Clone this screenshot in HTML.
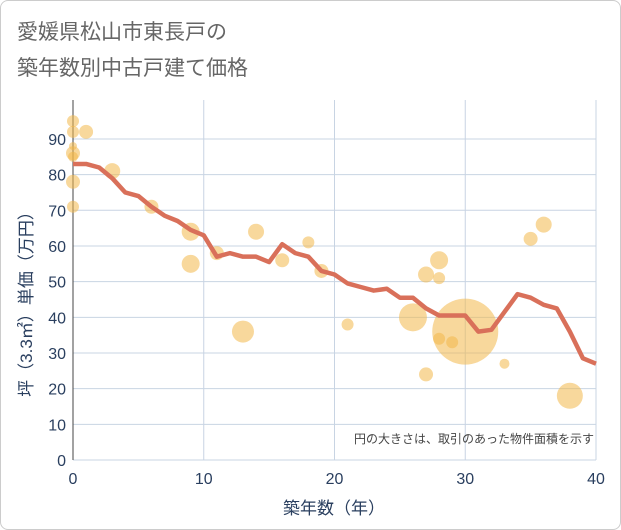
<!DOCTYPE html>
<html><head><meta charset="utf-8">
<style>
body{margin:0;background:#fff;font-family:"Liberation Sans","Noto Sans CJK JP",sans-serif;}
.wrap{position:relative;width:619px;height:528px;border:1px solid #ccc;border-radius:8px;overflow:hidden;background:#fff;}
.title{position:absolute;left:16px;top:14px;font-size:21px;line-height:36px;color:#666;}
svg text{font-family:"Liberation Sans","Noto Sans CJK JP",sans-serif;}
</style></head><body>
<div class="wrap">
<div class="title">愛媛県松山市東長戸の<br>築年数別中古戸建て価格</div>
<svg id="c" width="621" height="530" style="position:absolute;left:-1px;top:-1px"></svg>
</div>
<script>
const lineYears=[0,1,2,3,4,5,6,7,8,9,10,11,12,13,14,15,16,17,18,19,20,21,22,23,24,25,26,27,28,29,30,31,32,33,34,35,36,37,38,39,40];
const lineValues=[83,83,82,79,75,74,71,68.5,67,64.5,63,57,58,57,57,55.5,60.5,58,57,53,52,49.5,48.5,47.5,48,45.5,45.5,42.5,40.5,40.5,40.5,36,36.5,41.5,46.5,45.5,43.5,42.5,36,28.5,27];
const bubbleYears=[0,0,1,0,0,0,0,0,3,6,9,9,11,13,14,16,18,19,21,26,27,28,28,27,28,29,30,33,35,36,38];
const bubbleValues=[95,92,92,86,85,88,78,71,81,71,64,55,58,36,64,56,61,53,38,40,52,56,51,24,34,33,36,27,62,66,18];
const bubbleSizes=[6,6,7,7,5,4,7,6,8,7,9,9,7,11,8,7,6,7,6,14,8,9,6,7,6,6,33,5,7,8,13];
const xTicks=[0,10,20,30,40];
const yTicks=[0,10,20,30,40,50,60,70,80,90];
const X=v=>73+v*(523/40), Y=v=>460-v*3.567;
const s=document.getElementById('c'),NS='http://www.w3.org/2000/svg';
function mk(t,a,p){const e=document.createElementNS(NS,t);for(const k in a)e.setAttribute(k,a[k]);(p||s).appendChild(e);return e;}
for(const t of yTicks){const g=mk('line',{x1:73,x2:596,y1:Y(t),y2:Y(t),stroke:'#c8d4e3','stroke-width':1});


const tx=mk('text',{x:66,y:Y(t)+6,'text-anchor':'end','font-size':16,fill:'#2a3f5f'});tx.textContent=t;

}
for(const t of xTicks){const g=mk('line',{x1:X(t),x2:X(t),y1:100,y2:460,stroke:'#c8d4e3','stroke-width':1});


const tx=mk('text',{x:X(t),y:484,'text-anchor':'middle','font-size':16,fill:'#2a3f5f'});tx.textContent=t;

}
const ax=mk('line',{x1:73,x2:73,y1:100,y2:460,stroke:'#444','stroke-width':1});


bubbleYears.forEach((yr,i)=>{const c=mk('circle',{cx:X(yr),cy:Y(bubbleValues[i]),r:bubbleSizes[i],fill:'#f2b84b','fill-opacity':0.55});

});
const pl=mk('polyline',{points:lineYears.map((y,i)=>X(y)+','+Y(lineValues[i])).join(' '),fill:'none',stroke:'#d9705a','stroke-width':4.5,'stroke-linejoin':'round'});


const note=mk('text',{x:594,y:443,'text-anchor':'end','font-size':12,fill:'#444'});note.textContent='円の大きさは、取引のあった物件面積を示す';


const xt=mk('text',{x:334,y:514,'text-anchor':'middle','font-size':17,fill:'#2a3f5f'});xt.textContent='築年数（年）';


const yt=mk('text',{x:0,y:0,'text-anchor':'middle','font-size':17,fill:'#2a3f5f',transform:'translate(32,300) rotate(-90)'});yt.textContent='坪（3.3㎡）単価（万円）';


</script>
</body></html>
